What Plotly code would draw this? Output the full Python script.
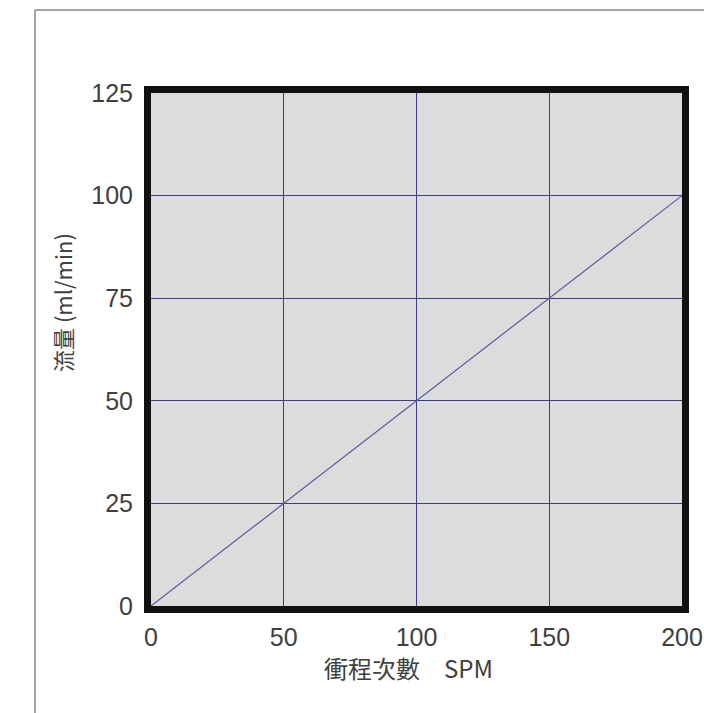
import plotly.graph_objects as go

# Data
spm = [0, 200]
flow = [0, 100]
x_ticks = [0, 50, 100, 150, 200]
y_ticks = [0, 25, 50, 75, 100, 125]
x_title = "衝程次數　SPM"
y_title = "流量 (ml/min)"

L, R, T, B = 151, 682, 93, 606
W, H = 704, 713
pw, ph = R - L, B - T

def px(xp):
    return (xp - L) / pw

def py(yp):
    return (B - yp) / ph

fig = go.Figure()
fig.add_trace(go.Scatter(x=spm, y=flow, mode="lines",
                         line=dict(color="#5a5a9c", width=1.2),
                         hoverinfo="skip", showlegend=False))

tickfont = dict(family="Liberation Sans, Arial", size=25, color="#404040")
fig.update_xaxes(range=[0, 200], tickvals=x_ticks, ticktext=[str(v) for v in x_ticks],
                 showgrid=True, gridcolor="#3c3c82", gridwidth=1, zeroline=False,
                 showline=True, linecolor="#111111", linewidth=7, mirror=True,
                 ticks="outside", ticklen=3, tickcolor="rgba(0,0,0,0)",
                 tickfont=tickfont, automargin=False)
fig.update_yaxes(range=[0, 125], tickvals=y_ticks, ticktext=[str(v) for v in y_ticks],
                 showgrid=True, gridcolor="#3c3c82", gridwidth=1, zeroline=False,
                 showline=True, linecolor="#111111", linewidth=7, mirror=True,
                 ticks="outside", ticklen=6, tickcolor="rgba(0,0,0,0)",
                 tickfont=tickfont, automargin=False)

# outer gray frame (left and top edges)
fig.add_shape(type="line", xref="paper", yref="paper",
              x0=px(35), x1=px(35), y0=py(H + 5), y1=py(10),
              line=dict(color="#8a8a8a", width=1.5))
fig.add_shape(type="line", xref="paper", yref="paper",
              x0=px(35), x1=px(W + 5), y0=py(10), y1=py(10),
              line=dict(color="#8a8a8a", width=1.5))

fig.add_annotation(text=x_title, xref="paper", yref="paper",
                   x=px(408), y=py(668), showarrow=False,
                   xanchor="center", yanchor="middle",
                   font=dict(family="Noto Sans CJK TC, Liberation Sans", size=24, color="#404040"))
fig.add_annotation(text=y_title, xref="paper", yref="paper",
                   x=px(62), y=py(303), showarrow=False, textangle=-90,
                   xanchor="center", yanchor="middle",
                   font=dict(family="Noto Sans CJK TC, Liberation Sans", size=22, color="#404040"))

fig.update_layout(width=W, height=H, autosize=False,
                  margin=dict(l=L, r=W - R, t=T, b=H - B, pad=0, autoexpand=False),
                  paper_bgcolor="white", plot_bgcolor="#dcdcdc",
                  showlegend=False)

fig.write_html("out.html", config={"displayModeBar": False},
               post_script="document.body.style.margin='0';document.body.style.padding='0';document.body.style.overflow='hidden';")
